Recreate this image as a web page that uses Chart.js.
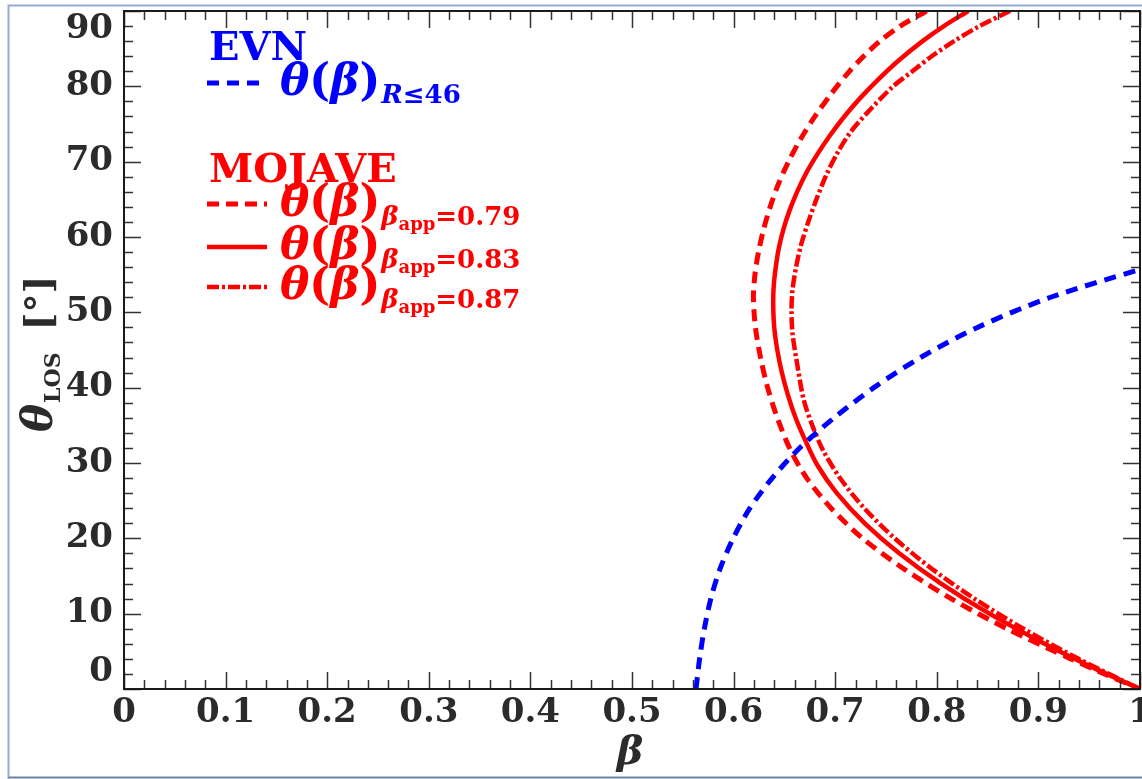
<!DOCTYPE html>
<html>
<head>
<meta charset="utf-8">
<script src="https://cdn.jsdelivr.net/npm/chart.js@4.4.0/dist/chart.umd.min.js"></script>
<style>
    html, body { margin: 0; padding: 0; background: #ffffff; }
    canvas { display: block; }
</style>
</head>
<body>
<canvas id="thetaChart" width="1142" height="779"></canvas>
<script>
// EVN: theta(beta) for R <= 46
var betaEVN = [0.563, 0.5665, 0.5712, 0.5776, 0.5868, 0.5996, 0.616, 0.638, 0.665, 0.699, 0.738,
               0.784, 0.840, 0.912, 1.0];
var thetaEVN = [0, 4, 8, 12, 16, 20, 24, 28, 32, 36, 40, 44, 48, 52, 55.7];

// MOJAVE: theta(beta) for beta_app = 0.79 (upper branch from 90 deg, then lower branch)
var beta079 = [0.790, 0.764, 0.744, 0.728, 0.714, 0.696, 0.680, 0.666, 0.654, 0.644, 0.636, 0.6295,
               0.6245, 0.621, 0.6195, 0.6215, 0.6265, 0.6335, 0.643, 0.656, 0.672, 0.696, 0.727,
               0.767, 0.814, 0.869, 0.932, 0.965, 1.0];
var theta079 = [90, 88, 86, 84, 82, 79, 76, 73, 70, 67, 64, 61,
                58, 55, 52, 48, 44, 40, 36, 31.7, 28, 24, 20,
                16, 12, 8, 4, 2, 0];

// MOJAVE: beta_app = 0.83
var beta083 = [0.831, 0.807, 0.786, 0.763, 0.743, 0.725, 0.709, 0.695, 0.6825, 0.6715, 0.6625, 0.655,
               0.649, 0.6445, 0.6415, 0.6395, 0.639, 0.640, 0.643, 0.6475, 0.6535, 0.661, 0.6705,
               0.6825, 0.7016, 0.7291, 0.7633, 0.8042, 0.8518, 0.9061, 0.9512, 1.0];
var theta083 = [90, 88, 86, 83.5, 81, 78.5, 76, 73.5, 71, 68.5, 66, 63.5,
                61, 58.5, 56, 53.5, 51, 48, 45, 42, 39, 36, 33,
                29.7, 26, 22, 18, 14, 10, 6, 3, 0];

// MOJAVE: beta_app = 0.87
var beta087 = [0.872, 0.842, 0.817, 0.795, 0.776, 0.757, 0.735, 0.7155, 0.7015, 0.6905, 0.6815, 0.6735,
               0.6665, 0.6615, 0.658, 0.657, 0.658, 0.663, 0.669, 0.678, 0.688, 0.7047, 0.7286,
               0.7586, 0.7947, 0.8369, 0.8852, 0.9395, 1.0];
var theta087 = [90, 88, 86, 84, 82, 80, 77, 74, 71, 68, 65, 62,
                59, 56, 53, 50.3, 47.2, 42.8, 38.4, 34.8, 31.7, 28, 24,
                20, 16, 12, 8, 4, 0];

var xTicks = [0, 0.1, 0.2, 0.3, 0.4, 0.5, 0.6, 0.7, 0.8, 0.9, 1];
var xTickLabels = ['0', '0.1', '0.2', '0.3', '0.4', '0.5', '0.6', '0.7', '0.8', '0.9', '1'];
var yTicks = [0, 10, 20, 30, 40, 50, 60, 70, 80, 90];

var BLUE = '#0000ff';
var RED = '#ff0000';
var INK = '#2b2b2b';
var SERIF = '"DejaVu Serif", "Liberation Serif", serif';

function toPoints(xs, ys) {
    var pts = [];
    for (var i = 0; i < xs.length; i++) {
        pts.push({ x: xs[i], y: ys[i] });
    }
    return pts;
}

// draws a run of text pieces one after another, each with its own font and vertical shift
function drawRun(ctx, parts, x, y, color) {
    ctx.fillStyle = color;
    ctx.textBaseline = 'alphabetic';
    ctx.textAlign = 'left';
    var cx = x;
    parts.forEach(function (p) {
        ctx.font = p.font;
        ctx.fillText(p.t, cx, y + (p.dy || 0));
        cx += ctx.measureText(p.t).width + (p.gap || 0);
    });
    return cx;
}

function thetaBeta(size) {
    return [
        { t: 'θ', font: 'bold italic ' + size + 'px ' + SERIF },
        { t: '(', font: 'bold ' + size + 'px ' + SERIF },
        { t: 'β', font: 'bold italic ' + size + 'px ' + SERIF },
        { t: ')', font: 'bold ' + size + 'px ' + SERIF, gap: 1 }
    ];
}

function sampleLine(ctx, y, color, width, dash) {
    ctx.save();
    ctx.strokeStyle = color;
    ctx.lineWidth = width;
    ctx.setLineDash(dash);
    ctx.beginPath();
    ctx.moveTo(207, y);
    ctx.lineTo(267, y);
    ctx.stroke();
    ctx.restore();
}

var decorations = {
    id: 'decorations',
    beforeDraw: function (chart) {
        var ctx = chart.ctx;
        ctx.save();
        ctx.fillStyle = '#ffffff';
        ctx.fillRect(0, 0, chart.width, chart.height);
        // thin frame round the figure
        ctx.lineWidth = 2;
        ctx.strokeStyle = '#93acd3';
        ctx.beginPath();
        ctx.moveTo(8.5, 779);
        ctx.lineTo(8.5, 5.5);
        ctx.lineTo(1142, 5.5);
        ctx.stroke();
        ctx.strokeStyle = '#6a84a6';
        ctx.beginPath();
        ctx.moveTo(8.5, 777.5);
        ctx.lineTo(1142, 777.5);
        ctx.stroke();
        ctx.restore();
    },
    afterDatasetsDraw: function (chart) {
        var ctx = chart.ctx;
        var a = chart.chartArea;
        var xs = chart.scales.x;
        var ys = chart.scales.y;
        var i, px, py, len;

        ctx.save();
        // inward tick marks on all four sides
        ctx.strokeStyle = '#333333';
        ctx.lineWidth = 1.5;
        ctx.beginPath();
        for (i = 0; i <= 50; i++) {
            px = Math.round(xs.getPixelForValue(i * 0.02)) + 0.5;
            len = (i % 5 === 0) ? 17 : 9;
            ctx.moveTo(px, a.bottom);
            ctx.lineTo(px, a.bottom - len);
            ctx.moveTo(px, a.top);
            ctx.lineTo(px, a.top + len);
        }
        for (i = 0; i <= 45; i++) {
            py = Math.round(ys.getPixelForValue(i * 2)) + 0.5;
            len = (i % 5 === 0) ? 17 : 9;
            ctx.moveTo(a.left, py);
            ctx.lineTo(a.left + len, py);
            ctx.moveTo(a.right, py);
            ctx.lineTo(a.right - len, py);
        }
        ctx.stroke();

        // axes box
        ctx.strokeStyle = '#1a1a1a';
        ctx.lineWidth = 2;
        ctx.strokeRect(a.left, a.top, a.right - a.left, a.bottom - a.top);

        // tick labels
        ctx.fillStyle = INK;
        ctx.font = 'bold 34px ' + SERIF;
        ctx.textAlign = 'center';
        ctx.textBaseline = 'middle';
        xTicks.forEach(function (v, k) {
            ctx.fillText(xTickLabels[k], xs.getPixelForValue(v), 713);
        });
        ctx.textAlign = 'right';
        yTicks.forEach(function (v) {
            var p = ys.getPixelForValue(v);
            p = Math.min(Math.max(p, a.top + 18), a.bottom - 17);
            ctx.fillText(String(v), 113, p);
        });

        // axis titles
        ctx.textBaseline = 'alphabetic';
        ctx.textAlign = 'center';
        ctx.font = 'bold italic 40px ' + SERIF;
        ctx.fillText('β', 630, 764);

        ctx.save();
        ctx.translate(52, 432);
        ctx.rotate(-Math.PI / 2);
        drawRun(ctx, [
            { t: 'θ', font: 'bold italic 42px ' + SERIF, gap: 1 },
            { t: 'LOS', font: 'bold 22px ' + SERIF, dy: 8, gap: 22 },
            { t: '[°]', font: 'bold 38px ' + SERIF }
        ], 0, 0, INK);
        ctx.restore();

        // legend
        var sub = 'bold 26px ' + SERIF;
        var subIt = 'bold italic 26px ' + SERIF;
        var tiny = 'bold 18px ' + SERIF;

        drawRun(ctx, [{ t: 'EVN', font: 'bold 40px ' + SERIF }], 209, 60, BLUE);
        sampleLine(ctx, 83, BLUE, 5, [12, 8]);
        drawRun(ctx, thetaBeta(44).concat([
            { t: 'R', font: subIt, dy: 8 },
            { t: '≤', font: sub, dy: 8 },
            { t: '46', font: sub, dy: 8 }
        ]), 280, 95, BLUE);

        drawRun(ctx, [{ t: 'MOJAVE', font: 'bold 40px ' + SERIF }], 209, 182, RED);
        var entries = [
            { y: 204, dash: [12, 7], width: 5, value: '0.79' },
            { y: 247, dash: [], width: 4.5, value: '0.83' },
            { y: 287, dash: [12, 3, 3, 3], width: 4.5, value: '0.87' }
        ];
        entries.forEach(function (e) {
            sampleLine(ctx, e.y, RED, e.width, e.dash);
            drawRun(ctx, thetaBeta(44).concat([
                { t: 'β', font: subIt, dy: 9 },
                { t: 'app', font: tiny, dy: 14 },
                { t: '=' + e.value, font: sub, dy: 9 }
            ]), 280, e.y + 12, RED);
        });
        ctx.restore();
    }
};

var ctx = document.getElementById('thetaChart').getContext('2d');

function curve(label, xs, ys, color, width, dash) {
    return {
        label: label,
        data: toPoints(xs, ys),
        showLine: true,
        borderColor: color,
        borderWidth: width,
        borderDash: dash,
        pointRadius: 0,
        tension: 0.3
    };
}

var chart = new Chart(ctx, {
    type: 'scatter',
    data: {
        datasets: [
            curve('EVN R<=46', betaEVN, thetaEVN, BLUE, 5, [12, 8]),
            curve('MOJAVE 0.79', beta079, theta079, RED, 5, [12, 7]),
            curve('MOJAVE 0.83', beta083, theta083, RED, 4.5, []),
            curve('MOJAVE 0.87', beta087, theta087, RED, 4.5, [12, 3, 3, 3])
        ]
    },
    options: {
        responsive: false,
        animation: false,
        devicePixelRatio: 1,
        layout: {
            padding: { left: 124, top: 11, right: 2, bottom: 90 }
        },
        plugins: {
            legend: { display: false },
            tooltip: { enabled: false }
        },
        scales: {
            x: { type: 'linear', min: 0, max: 1, display: false },
            y: { type: 'linear', min: 0, max: 90, display: false }
        }
    },
    plugins: [decorations]
});
</script>
</body>
</html>
